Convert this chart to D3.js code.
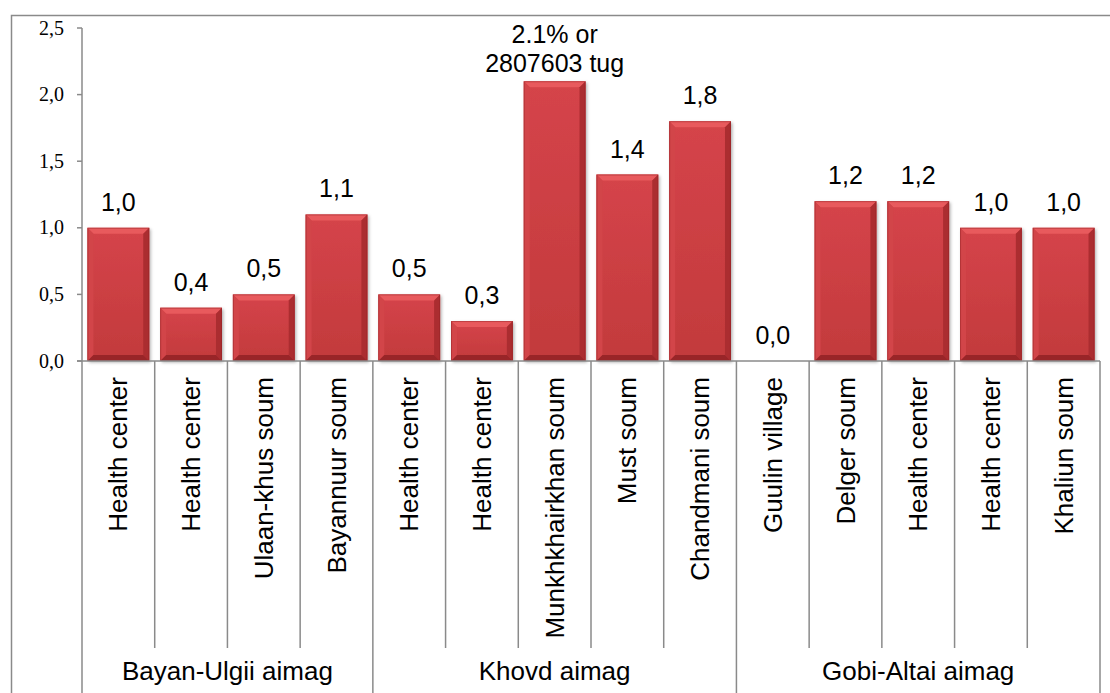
<!DOCTYPE html>
<html>
<head>
<meta charset="utf-8">
<script src="https://cdn.jsdelivr.net/npm/d3@7/dist/d3.min.js"></script>
<style>
  html, body { margin: 0; padding: 0; background: #fff; }
  svg { display: block; }
</style>
</head>
<body>
<svg id="chart" width="1110" height="693"></svg>
<script>
// Facility names, their values (%), and the aimag each belongs to
const categories = [
  "Health center", "Health center", "Ulaan-khus soum", "Bayannuur soum",
  "Health center", "Health center", "Munkhkhairkhan soum", "Must soum", "Chandmani soum",
  "Guulin village", "Delger soum", "Health center", "Health center", "Khaliun soum"
];
const values = [1.0, 0.4, 0.5, 1.1, 0.5, 0.3, 2.1, 1.4, 1.8, 0.0, 1.2, 1.2, 1.0, 1.0];
const groups = ["Bayan-Ulgii aimag", "Khovd aimag", "Gobi-Altai aimag"];
const groupSizes = [4, 5, 5];
const yTicks = [0, 0.5, 1.0, 1.5, 2.0, 2.5];
// Bar 6 carries an extended annotation instead of the plain value
const noteIndex = 6;
const noteLines = ["2.1% or", "2807603 tug"];

const svg = d3.select("#chart");
const W = 1110, H = 693;
const plot = { left: 82, right: 1100, top: 28, bottom: 361 };
const grey = "#8a8a8a";
const sans = "'Liberation Sans', Arial, sans-serif";
const serif = "'Liberation Serif', 'Times New Roman', serif";

const idx = d3.range(values.length);
const x = d3.scaleBand().domain(idx).range([plot.left, plot.right])
  .paddingInner(0.15).paddingOuter(0.075);
const y = d3.scaleLinear().domain([0, 2.5]).range([plot.bottom, plot.top]);
const fmt = v => d3.format(".1f")(v).replace(".", ",");

// Outer chart frame (top and left edges visible)
svg.append("path")
  .attr("d", `M11.5,${H} V15.5 H${W}`)
  .attr("fill", "none").attr("stroke", grey).attr("stroke-width", 1.5);

// Bar gradient and bevel
const defs = svg.append("defs");
const grad = defs.append("linearGradient").attr("id", "barFill")
  .attr("x1", 0).attr("y1", 0).attr("x2", 0).attr("y2", 1);
grad.append("stop").attr("offset", 0).attr("stop-color", "#d5444a");
grad.append("stop").attr("offset", 1).attr("stop-color", "#c23a3c");
const shadow = defs.append("filter").attr("id", "barShadow")
  .attr("x", "-10%").attr("y", "-10%").attr("width", "125%").attr("height", "125%");
shadow.append("feDropShadow").attr("dx", 1.5).attr("dy", 1.5).attr("stdDeviation", 1.5)
  .attr("flood-color", "#000").attr("flood-opacity", 0.3);

const bars = svg.append("g");
const bv = 6; // bevel depth
idx.forEach(i => {
  if (values[i] <= 0) return;
  const x0 = x(i), w = x.bandwidth();
  const y0 = y(values[i]), h = y(0) - y0;
  const g = bars.append("g");
  g.append("rect").attr("x", x0).attr("y", y0).attr("width", w).attr("height", h)
    .attr("fill", "url(#barFill)").attr("filter", "url(#barShadow)");
  const b = Math.min(bv, h / 2);
  // top face
  g.append("path").attr("d", `M${x0},${y0} H${x0 + w} L${x0 + w - b},${y0 + b} H${x0 + b} Z`)
    .attr("fill", "#e85a5d");
  // left face
  g.append("path").attr("d", `M${x0},${y0} L${x0 + b},${y0 + b} V${y0 + h - b} L${x0},${y0 + h} Z`)
    .attr("fill", "#d24549");
  // right face
  g.append("path").attr("d", `M${x0 + w},${y0} L${x0 + w - b},${y0 + b} V${y0 + h - b} L${x0 + w},${y0 + h} Z`)
    .attr("fill", "#ab2d30");
  // bottom face
  g.append("path").attr("d", `M${x0},${y0 + h} L${x0 + b},${y0 + h - b} H${x0 + w - b} L${x0 + w},${y0 + h} Z`)
    .attr("fill", "#992528");
  g.append("rect").attr("x", x0 + 0.5).attr("y", y0 + 0.5).attr("width", w - 1).attr("height", h - 1)
    .attr("fill", "none").attr("stroke", "#8e2124").attr("stroke-opacity", 0.45);
});

// Y axis
const yAxis = svg.append("g");
yAxis.append("line").attr("x1", plot.left).attr("x2", plot.left)
  .attr("y1", plot.top).attr("y2", plot.bottom).attr("stroke", grey).attr("stroke-width", 1.5);
yTicks.forEach(t => {
  yAxis.append("line").attr("x1", plot.left - 5).attr("x2", plot.left)
    .attr("y1", y(t)).attr("y2", y(t)).attr("stroke", grey).attr("stroke-width", 1.5);
  yAxis.append("text").attr("x", 64).attr("y", y(t)).attr("dy", "0.33em")
    .attr("text-anchor", "end").attr("font-family", serif).attr("font-size", 20)
    .attr("fill", "#000").text(fmt(t));
});

// X axis baseline
svg.append("line").attr("x1", plot.left - 5).attr("x2", plot.right)
  .attr("y1", plot.bottom).attr("y2", plot.bottom).attr("stroke", grey).attr("stroke-width", 1.5);

// Category dividers: short ones inside a group, long ones between aimags
const step = x.step();
const groupEdges = d3.cumsum([0, ...groupSizes]);
d3.range(values.length + 1).forEach(k => {
  const xx = plot.left + k * step;
  const long = groupEdges.includes(k);
  svg.append("line").attr("x1", xx).attr("x2", xx)
    .attr("y1", plot.bottom).attr("y2", long ? H : 648)
    .attr("stroke", grey).attr("stroke-width", 1.5);
});

// Rotated category labels
idx.forEach(i => {
  const cx = x(i) + x.bandwidth() / 2;
  svg.append("text")
    .attr("transform", `translate(${cx},377) rotate(-90)`)
    .attr("dy", "0.35em").attr("text-anchor", "end")
    .attr("font-family", sans).attr("font-size", 26).attr("fill", "#000")
    .text(categories[i]);
});

// Aimag labels
groups.forEach((gname, j) => {
  const cx = plot.left + (groupEdges[j] + groupEdges[j + 1]) / 2 * step;
  svg.append("text").attr("x", cx).attr("y", 680).attr("text-anchor", "middle")
    .attr("font-family", sans).attr("font-size", 26).attr("fill", "#000").text(gname);
});

// Value labels
idx.forEach(i => {
  const cx = x(i) + x.bandwidth() / 2;
  if (i === noteIndex) {
    const t = svg.append("text").attr("text-anchor", "middle")
      .attr("font-family", sans).attr("font-size", 25).attr("fill", "#000");
    noteLines.forEach((ln, k) => {
      t.append("tspan").attr("x", cx)
        .attr("y", y(values[i]) - 9 - (noteLines.length - 1 - k) * 29).text(ln);
    });
  } else {
    svg.append("text").attr("x", cx).attr("y", y(values[i]) - 17)
      .attr("text-anchor", "middle").attr("font-family", sans).attr("font-size", 25)
      .attr("fill", "#000").text(fmt(values[i]));
  }
});
</script>
</body>
</html>
